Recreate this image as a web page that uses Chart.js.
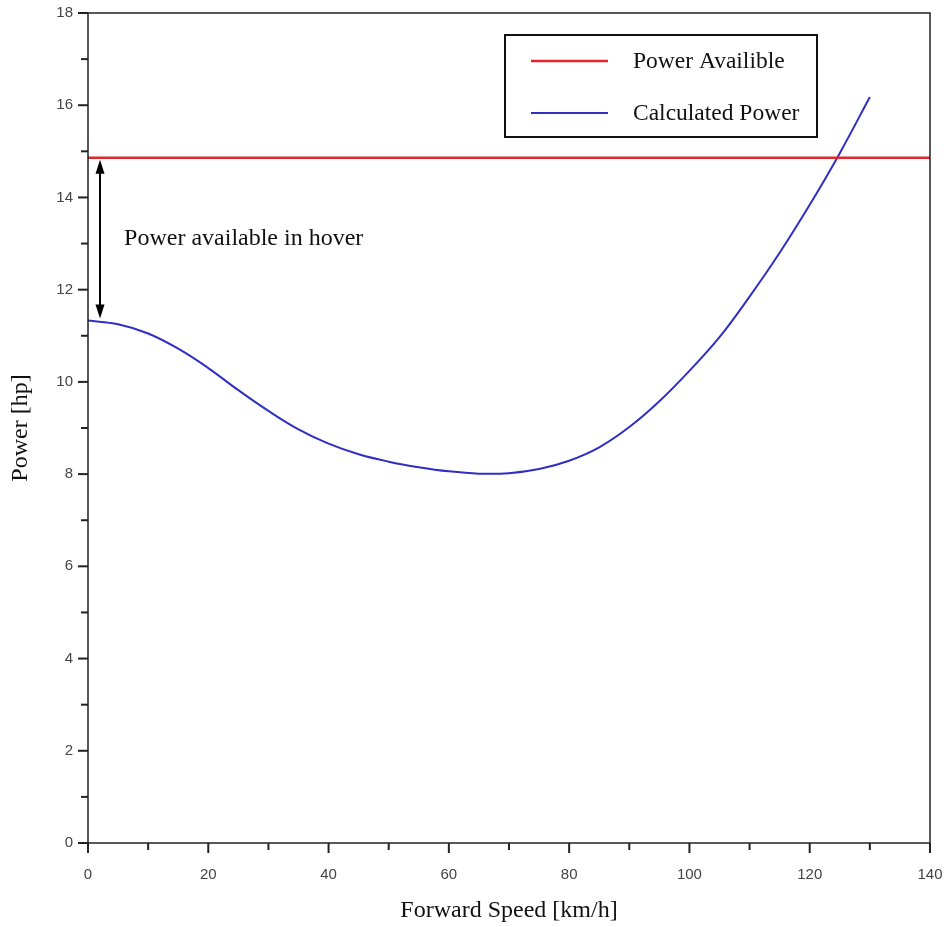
<!DOCTYPE html>
<html lang="en">
<head>
    <meta charset="UTF-8">
    <title>Power vs Forward Speed</title>
    <script src="https://cdn.jsdelivr.net/npm/chart.js"></script>
    <style>
        html, body { margin: 0; padding: 0; background: #fff; }
        #wrap { width: 952px; height: 927px; }
    </style>
</head>
<body>
    <div id="wrap"><canvas id="grafica" width="952" height="927"></canvas></div>

    <script>
        // values
        const speed = [0, 5, 10, 15, 20, 25, 30, 35, 40, 45, 50, 55, 60, 65, 70, 75, 80, 85, 90, 95, 100, 105, 110, 115, 120, 125, 130];
        const calcPower = [11.33, 11.25, 11.05, 10.72, 10.30, 9.82, 9.37, 8.97, 8.66, 8.43, 8.27, 8.15, 8.06, 8.01, 8.02, 8.11, 8.29, 8.58, 9.02, 9.58, 10.24, 10.97, 11.85, 12.80, 13.84, 14.96, 16.18];
        const availSpeed = [0, 140];
        const availPower = [14.86, 14.86];
        const hoverGap = { x: 2, from: 14.86, to: 11.33, text: 'Power available in hover', textX: 6, textY: 13.1 };
        const xTicks = [0, 20, 40, 60, 80, 100, 120, 140];
        const yTicks = [0, 2, 4, 6, 8, 10, 12, 14, 16, 18];

        const serif = '"Liberation Serif", "DejaVu Serif", serif';
        const sans = '"Liberation Sans", Arial, sans-serif';
        const axisColor = '#222';

        // frame, tick marks, legend box and the hover arrow
        const extras = {
            id: 'extras',
            afterDraw(chart) {
                const ctx = chart.ctx;
                const a = chart.chartArea;
                const xs = chart.scales.x, ys = chart.scales.y;
                ctx.save();
                ctx.strokeStyle = axisColor;
                ctx.lineWidth = 1.5;
                ctx.strokeRect(a.left, a.top, a.right - a.left, a.bottom - a.top);

                ctx.lineWidth = 2;
                for (let v = 0; v <= 140; v += 10) {
                    const px = xs.getPixelForValue(v);
                    const len = xTicks.includes(v) ? 10 : 7;
                    ctx.beginPath();
                    ctx.moveTo(px, a.bottom);
                    ctx.lineTo(px, a.bottom + len);
                    ctx.stroke();
                }
                for (let v = 0; v <= 18; v += 1) {
                    const py = ys.getPixelForValue(v);
                    const len = yTicks.includes(v) ? 10 : 7;
                    ctx.beginPath();
                    ctx.moveTo(a.left, py);
                    ctx.lineTo(a.left - len, py);
                    ctx.stroke();
                }

                // hover arrow
                const ax = xs.getPixelForValue(hoverGap.x);
                const y1 = ys.getPixelForValue(hoverGap.from);
                const y2 = ys.getPixelForValue(hoverGap.to);
                ctx.strokeStyle = '#000';
                ctx.fillStyle = '#000';
                ctx.lineWidth = 2;
                ctx.beginPath();
                ctx.moveTo(ax, y1 + 12);
                ctx.lineTo(ax, y2 - 12);
                ctx.stroke();
                ctx.beginPath();
                ctx.moveTo(ax, y1 + 2);
                ctx.lineTo(ax - 4.5, y1 + 16);
                ctx.lineTo(ax + 4.5, y1 + 16);
                ctx.closePath();
                ctx.fill();
                ctx.beginPath();
                ctx.moveTo(ax, y2 - 2);
                ctx.lineTo(ax - 4.5, y2 - 16);
                ctx.lineTo(ax + 4.5, y2 - 16);
                ctx.closePath();
                ctx.fill();

                ctx.font = '24px ' + serif;
                ctx.textBaseline = 'middle';
                ctx.textAlign = 'left';
                ctx.fillStyle = '#111';
                ctx.fillText(hoverGap.text, xs.getPixelForValue(hoverGap.textX), ys.getPixelForValue(hoverGap.textY));

                // legend box
                const lx = 505, ly = 35, lw = 312, lh = 102;
                ctx.fillStyle = '#fff';
                ctx.fillRect(lx, ly, lw, lh);
                ctx.strokeStyle = '#111';
                ctx.lineWidth = 2;
                ctx.strokeRect(lx, ly, lw, lh);
                chart.data.datasets.forEach((ds, i) => {
                    const yy = ly + 26 + i * 52;
                    ctx.strokeStyle = ds.borderColor;
                    ctx.lineWidth = ds.borderWidth;
                    ctx.beginPath();
                    ctx.moveTo(lx + 26, yy);
                    ctx.lineTo(lx + 103, yy);
                    ctx.stroke();
                    ctx.fillStyle = '#111';
                    ctx.font = '23.5px ' + serif;
                    ctx.fillText(ds.label, lx + 128, yy + 1);
                });
                ctx.restore();
            }
        };

        new Chart(document.getElementById('grafica'), {
            type: 'scatter',
            data: {
                datasets: [
                    {
                        label: 'Power Availible',
                        data: availSpeed.map((s, i) => ({ x: s, y: availPower[i] })),
                        showLine: true,
                        borderColor: '#e5262b',
                        borderWidth: 2.5,
                        pointRadius: 0
                    },
                    {
                        label: 'Calculated Power',
                        data: speed.map((s, i) => ({ x: s, y: calcPower[i] })),
                        showLine: true,
                        borderColor: '#2f2fc4',
                        borderWidth: 2,
                        pointRadius: 0,
                        tension: 0.4
                    }
                ]
            },
            options: {
                responsive: false,
                animation: false,
                layout: { padding: { top: 13, right: 22, left: 0, bottom: 0 } },
                plugins: {
                    legend: { display: false },
                    tooltip: { enabled: false }
                },
                scales: {
                    x: {
                        type: 'linear',
                        min: 0,
                        max: 140,
                        afterFit(scale) {
                            scale.height = 84;
                            scale.paddingLeft = 0;
                            scale.paddingRight = 0;
                        },
                        afterBuildTicks(scale) { scale.ticks = xTicks.map(v => ({ value: v })); },
                        grid: { display: false, drawTicks: false },
                        border: { display: false },
                        ticks: { padding: 23, color: '#444', font: { family: sans, size: 15 }, maxRotation: 0 },
                        title: { display: true, text: 'Forward Speed [km/h]', color: '#111', font: { family: serif, size: 24 }, padding: { top: 0, bottom: 2 } }
                    },
                    y: {
                        type: 'linear',
                        min: 0,
                        max: 18,
                        afterFit(scale) {
                            scale.width = 88;
                            scale.paddingTop = 0;
                            scale.paddingBottom = 0;
                        },
                        afterBuildTicks(scale) { scale.ticks = yTicks.map(v => ({ value: v })); },
                        grid: { display: false, drawTicks: false },
                        border: { display: false },
                        ticks: { padding: 15, color: '#444', font: { family: sans, size: 15 } },
                        title: { display: true, text: 'Power [hp]', color: '#111', font: { family: serif, size: 24 }, padding: { top: 6, bottom: 0 } }
                    }
                }
            },
            plugins: [extras]
        });
    </script>
</body>
</html>
